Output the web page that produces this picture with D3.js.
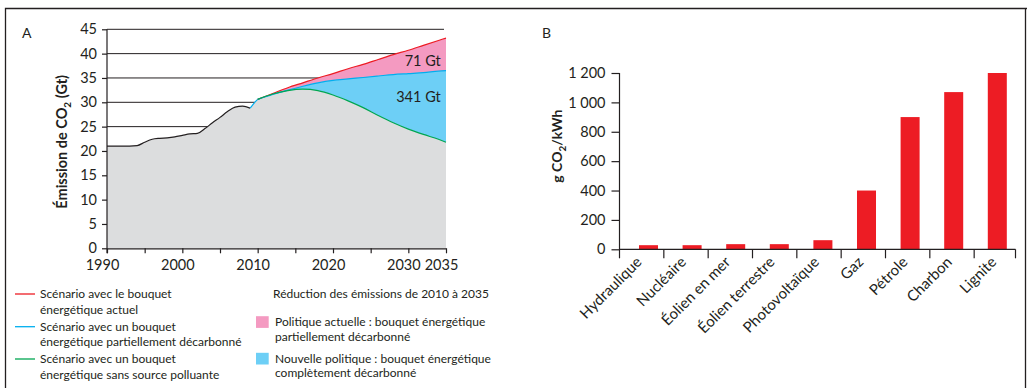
<!DOCTYPE html>
<html>
<head>
<meta charset="utf-8">
<script src="https://cdn.jsdelivr.net/npm/d3@7"></script>
<style>
  body { margin: 0; background: #fff; }
  svg text { font-family: Lato, "Open Sans", sans-serif; fill: #231f20; }
</style>
</head>
<body>
<svg id="fig" width="1027" height="388"></svg>
<script>
// ---- Panel A: CO2 emissions (Gt), history and scenarios ----
const histYears  = [1990, 1991, 1992, 1993, 1994, 1995, 1996, 1997, 1998, 1999,
                    2000, 2001, 2002, 2003, 2004, 2005, 2006, 2007, 2008, 2009];
const histValues = [21.0, 21.0, 21.0, 21.0, 21.1, 21.8, 22.4, 22.6, 22.7, 22.9,
                    23.2, 23.5, 23.6, 24.6, 25.8, 26.9, 28.1, 29.0, 29.2, 28.8];
const bridgeYears  = [2009, 2009.5, 2010];
const bridgeValues = [28.8, 29.8, 30.6];
const projYears   = [2010, 2012, 2014, 2016, 2018, 2020, 2022, 2024, 2026, 2028, 2030, 2032, 2034, 2035];
const currentMix  = [30.6, 31.8, 33.0, 34.0, 35.0, 35.9, 36.9, 37.8, 38.8, 39.8, 40.7, 41.7, 42.7, 43.2];
const partialMix  = [30.6, 31.6, 32.5, 33.3, 34.0, 34.5, 34.8, 35.1, 35.4, 35.7, 35.9, 36.1, 36.4, 36.5];
const cleanMix    = [30.6, 31.7, 32.4, 32.7, 32.4, 31.5, 30.3, 28.9, 27.3, 25.8, 24.5, 23.4, 22.4, 21.8];
const yTicksA  = [0, 5, 10, 15, 20, 25, 30, 35, 40, 45];
const xTicksA  = [1990, 1995, 2000, 2005, 2010, 2015, 2020, 2025, 2030, 2035];
const xLabelsA = [1990, 2000, 2010, 2020, 2030, 2035];
const reductionLabels = ["71 Gt", "341 Gt"];
const legendLines = [
  ["Scénario avec le bouquet", "énergétique actuel"],
  ["Scénario avec un bouquet", "énergétique partiellement décarbonné"],
  ["Scénario avec un bouquet", "énergétique sans source polluante"]
];
const legendAreasTitle = "Réduction des émissions de 2010 à 2035";
const legendAreas = [
  ["Politique actuelle : bouquet énergétique", "partiellement décarbonné"],
  ["Nouvelle politique : bouquet énergétique", "complètement décarbonné"]
];

// ---- Panel B: g CO2 per kWh by source ----
const sources   = ["Hydraulique", "Nucléaire", "Éolien en mer", "Éolien terrestre",
                   "Photovoltaïque", "Gaz", "Pétrole", "Charbon", "Lignite"];
const intensity = [28, 28, 35, 35, 62, 400, 900, 1070, 1200];
const yTicksB   = [0, 200, 400, 600, 800, 1000, 1200];
const yLabelsB  = ["0", "200", "400", "600", "800", "1 000", "1 200"];

const C = {
  ink: "#231f20", grey: "#dcddde", pink: "#f49ac1", sky: "#6dcff6",
  red: "#ed1c24", blue: "#00aeef", green: "#00a651", bar: "#ed1c24"
};

const svg = d3.select("#fig");

// outer frame
svg.append("path")
  .attr("d", "M5.5,388 V8.5 H1027 M1025.5,8.5 V388")
  .attr("fill", "none").attr("stroke", C.ink).attr("stroke-width", 1.3);

// ================= Panel A =================
const xA = d3.scaleLinear().domain([1990, 2035]).range([107, 446]);
const yA = d3.scaleLinear().domain([0, 45]).range([248.3, 29.3]);
const gA = svg.append("g");

gA.append("text").attr("x", 22).attr("y", 38).attr("font-size", 14).text("A");

// horizontal gridlines (hidden under the filled area)
gA.append("g").selectAll("line").data(yTicksA.filter(d => d > 0)).join("line")
  .attr("x1", xA(1990)).attr("x2", xA(2035) - 2)
  .attr("y1", d => yA(d)).attr("y2", d => yA(d))
  .attr("stroke", C.ink).attr("stroke-width", 1);

const hist = histYears.map((y, i) => ({ year: y, v: histValues[i] }));
const bridge = bridgeYears.map((y, i) => ({ year: y, v: bridgeValues[i] }));
const proj = projYears.map((y, i) => ({ year: y, cur: currentMix[i], part: partialMix[i], clean: cleanMix[i] }));
const floorSeries = hist.concat(bridge.slice(1), proj.slice(1).map(d => ({ year: d.year, v: d.clean })));

const curve = d3.curveMonotoneX;
gA.append("path").datum(floorSeries)
  .attr("d", d3.area().curve(curve).x(d => xA(d.year)).y0(yA(0)).y1(d => yA(d.v)))
  .attr("fill", C.grey);
gA.append("path").datum(proj)
  .attr("d", d3.area().curve(curve).x(d => xA(d.year)).y0(d => yA(d.part)).y1(d => yA(d.cur)))
  .attr("fill", C.pink);
gA.append("path").datum(proj)
  .attr("d", d3.area().curve(curve).x(d => xA(d.year)).y0(d => yA(d.clean)).y1(d => yA(d.part)))
  .attr("fill", C.sky);

const line = d3.line().curve(curve).x(d => xA(d.year)).y(d => yA(d.v));
gA.append("path").datum(hist).attr("d", line).attr("fill", "none").attr("stroke", C.ink).attr("stroke-width", 1.2);
gA.append("path").datum(bridge).attr("d", line).attr("fill", "none").attr("stroke", C.blue).attr("stroke-width", 1.2);
[["cur", C.red], ["part", C.blue], ["clean", C.green]].forEach(([k, col]) => {
  gA.append("path").datum(proj.map(d => ({ year: d.year, v: d[k] })))
    .attr("d", line).attr("fill", "none").attr("stroke", col).attr("stroke-width", 1.2);
});

// cumulative reduction labels
gA.append("text").attr("x", xA(2034.3)).attr("y", yA(37.4)).attr("text-anchor", "end")
  .attr("font-size", 14.5).text(reductionLabels[0]);
gA.append("text").attr("x", xA(2034.3)).attr("y", yA(30.0)).attr("text-anchor", "end")
  .attr("font-size", 14.5).text(reductionLabels[1]);

// axes
const yAxisA = gA.append("g").attr("transform", `translate(${xA(1990)},0)`)
  .call(d3.axisLeft(yA).tickValues(yTicksA).tickSize(5).tickPadding(5).tickSizeOuter(0));
yAxisA.select(".domain").remove();
gA.append("line").attr("x1", xA(1990)).attr("x2", xA(1990)).attr("y1", yA(45)).attr("y2", yA(0) + 5)
  .attr("stroke", C.ink).attr("stroke-width", 1.2);
const xAxisA = gA.append("g").attr("transform", `translate(0,${yA(0)})`)
  .call(d3.axisBottom(xA).tickValues(xTicksA).tickSize(5).tickPadding(6).tickSizeOuter(0)
    .tickFormat(d => xLabelsA.includes(d) ? String(d) : ""));
[yAxisA, xAxisA].forEach(ax => {
  ax.selectAll("line").attr("stroke", C.ink).attr("stroke-width", 1.2);
  ax.selectAll(".domain").attr("stroke", C.ink).attr("stroke-width", 1.2);
  ax.selectAll("text").attr("font-size", 14.5).attr("font-family", "Lato").attr("fill", C.ink);
});
xAxisA.selectAll("text").attr("dx", -5);

gA.append("text")
  .attr("transform", `translate(67,${(yA(45) + yA(0)) / 2 + 3}) rotate(-90)`)
  .attr("text-anchor", "middle").attr("font-size", 14.5).attr("font-weight", 700)
  .call(t => {
    t.append("tspan").text("Émission de CO");
    t.append("tspan").attr("font-size", 10).attr("dy", 4).text("2");
    t.append("tspan").attr("dy", -4).text(" (Gt)");
  });

// legend: scenario lines
const legendRowY = [294, 326.7, 359];
const lineColours = [C.red, C.blue, C.green];
legendLines.forEach((rows, i) => {
  const y = legendRowY[i];
  gA.append("line").attr("x1", 15).attr("x2", 35).attr("y1", y).attr("y2", y)
    .attr("stroke", lineColours[i]).attr("stroke-width", 1.3);
  rows.forEach((r, j) => gA.append("text").attr("x", 40).attr("y", y + 4.3 + j * 15.2)
    .attr("font-size", 12).text(r));
});

// legend: reduction areas
gA.append("text").attr("x", 273).attr("y", 298.3).attr("font-size", 12).text(legendAreasTitle);
const areaRowY = [321.7, 358.3];
const areaColours = [C.pink, C.sky];
legendAreas.forEach((rows, i) => {
  const y = areaRowY[i];
  gA.append("rect").attr("x", 256).attr("y", y - 5.5).attr("width", 12.7).attr("height", 11.7)
    .attr("fill", areaColours[i]);
  rows.forEach((r, j) => gA.append("text").attr("x", 275).attr("y", y + 4.3 + j * 14.8)
    .attr("font-size", 12).text(r));
});

// ================= Panel B =================
const gB = svg.append("g");
gB.append("text").attr("x", 542).attr("y", 38).attr("font-size", 14).text("B");

const yB = d3.scaleLinear().domain([0, 1200]).range([249.3, 73]);
const xAxisBand = d3.scaleBand().domain(sources).range([619.5, 1018.5]);
const xBar = d3.scaleBand().domain(sources).range([626.7, 1019.1]).paddingInner(0.564).paddingOuter(0.282);

gB.append("g").selectAll("rect").data(sources).join("rect")
  .attr("x", d => xBar(d)).attr("width", xBar.bandwidth())
  .attr("y", (d, i) => yB(intensity[i])).attr("height", (d, i) => yB(0) - yB(intensity[i]))
  .attr("fill", C.bar);

const yAxisB = gB.append("g").attr("transform", "translate(619.5,0)")
  .call(d3.axisLeft(yB).tickValues(yTicksB).tickSize(8).tickPadding(6).tickSizeOuter(0)
    .tickFormat(d => yLabelsB[yTicksB.indexOf(d)]));
yAxisB.select(".domain").remove();
yAxisB.selectAll("line").attr("stroke", C.ink).attr("stroke-width", 1.2);
yAxisB.selectAll("text").attr("font-size", 14.5).attr("font-family", "Lato").attr("fill", C.ink);

const axisEnd = 1015.5;
gB.append("line").attr("x1", 619.5).attr("x2", 619.5).attr("y1", yB(1200)).attr("y2", yB(0) + 9)
  .attr("stroke", C.ink).attr("stroke-width", 1.2);
gB.append("line").attr("x1", 619.5).attr("x2", axisEnd).attr("y1", yB(0)).attr("y2", yB(0))
  .attr("stroke", C.ink).attr("stroke-width", 1.2);
const tickXs = sources.slice(1).map(s => xAxisBand(s)).concat([axisEnd]);
gB.append("g").selectAll("line").data(tickXs).join("line")
  .attr("x1", d => d).attr("x2", d => d).attr("y1", yB(0)).attr("y2", yB(0) + 9)
  .attr("stroke", C.ink).attr("stroke-width", 1.2);

gB.append("g").selectAll("text").data(sources).join("text")
  .attr("transform", d => `translate(${xAxisBand(d) + xAxisBand.bandwidth() / 2 + 1},263) rotate(-45)`)
  .attr("text-anchor", "end").attr("font-size", 15).text(d => d);

gB.append("text")
  .attr("transform", `translate(562,${(yB(1200) + yB(0)) / 2 - 15}) rotate(-90)`)
  .attr("text-anchor", "middle").attr("font-size", 14).attr("font-weight", 700)
  .call(t => {
    t.append("tspan").text("g CO");
    t.append("tspan").attr("font-size", 10).attr("dy", 4).text("2");
    t.append("tspan").attr("dy", -4).text("/kWh");
  });
</script>
</body>
</html>
